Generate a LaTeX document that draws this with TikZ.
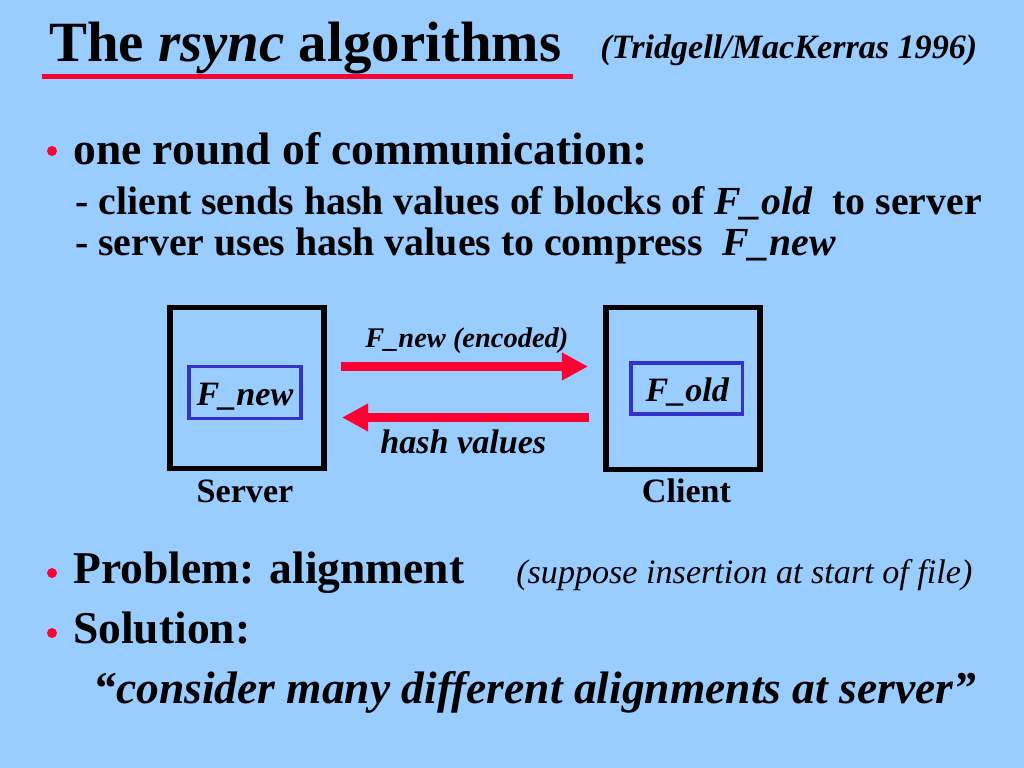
\documentclass[tikz,border=0pt]{standalone}
\usepackage{fontspec}
\setmainfont{Liberation Serif}[
  UprightFont={Liberation Serif},
  BoldFont={Liberation Serif Bold},
  ItalicFont={Liberation Serif Italic},
  BoldItalicFont={Liberation Serif Bold Italic}]
\usetikzlibrary{arrows.meta}
\definecolor{bg}{HTML}{99CCFF}
\definecolor{rd}{HTML}{FF0033}
\definecolor{bl}{HTML}{3333CC}
\begin{document}
\begin{tikzpicture}[x=0.703125pt,y=-0.703125pt,
  txt/.style={inner sep=0pt,anchor=base west},
  ttl/.style={txt,font=\fontsize{40}{48}\selectfont\bfseries},
  big/.style={txt,font=\fontsize{32}{38}\selectfont\bfseries},
  mid/.style={txt,font=\fontsize{28}{34}\selectfont\bfseries},
  sml/.style={txt,font=\fontsize{24}{29}\selectfont\bfseries\itshape},
  lbl/.style={inner sep=0pt,anchor=base,font=\fontsize{24}{29}\selectfont\bfseries},
  bullet/.style={circle,fill=rd,inner sep=0pt,minimum size=7pt},
  host/.style={draw=black,line width=4.2pt,inner sep=0pt},
  file/.style={draw=bl,line width=2.5pt,inner sep=0pt,font=\fontsize{24}{29}\selectfont\bfseries\itshape},
  flow/.style={rd,line width=6.3pt,-{Triangle[length=18.3pt,width=18.3pt]}}]
\fill[bg] (0,0) rectangle (1024,768);
\useasboundingbox (0,0) rectangle (1024,768);
% title
\node[ttl] (title) at (49,62) {The \textit{rsync} algorithms};
\node[sml] (cite) at (600,59) {(Tridgell/MacKerras 1996)};
\draw[rd,line width=3.5pt] (42,76.5) -- (573,76.5);
% first bullet
\node[bullet] (b1) at (52,151) {};
\node[big] (l1) at (73,165) {one round of communication:};
\node[mid] (l2) at (75,215) {- client sends hash values of blocks of \textit{F\_old}\ \ to server};
\node[mid] (l3) at (75,256) {- server uses hash values to compress\ \ \textit{F\_new}};
% diagram
\node[host,minimum width=107.6pt,minimum height=113.2pt] (server) at (247,388) {};
\node[host,minimum width=108.6pt,minimum height=113.9pt] (client) at (682.75,388.5) {};
\node[file,minimum width=78.75pt,text height=27.07pt,text depth=9.49pt] (fnew) at (245,392.5) {F\_new};
\node[file,minimum width=78.4pt,text height=26.72pt,text depth=9.14pt,text width=58pt,align=left] (fold) at (686.75,388.5) {F\_old};
\node[lbl] (slbl) at (245,502) {Server};
\node[lbl] (clbl) at (686.5,502) {Client};
\coordinate (a1s) at (341,366.5);
\coordinate (a1e) at (588,366.5);
\coordinate (a2s) at (589,417.5);
\coordinate (a2e) at (342,417.5);
\draw[flow] (a1s) -- (a1e);
\draw[flow] (a2s) -- (a2e);
\node[txt,font=\fontsize{20}{24}\selectfont\bfseries\itshape] (enc) at (365,348) {F\_new (encoded)};
\node[sml] (hash) at (380,453) {hash values};
% second and third bullets
\node[bullet] (b2) at (52,573) {};
\node[big] (l4) at (73,583) {Problem: alignment};
\node[txt,font=\fontsize{24}{29}\selectfont\itshape] (sup) at (516,583) {(suppose insertion at start of file)};
\node[bullet] (b3) at (52,633) {};
\node[big] (l5) at (73,643) {Solution:};
\node[big,font=\fontsize{32}{38}\selectfont\bfseries\itshape] (quote) at (93,703) {“consider many different alignments at server”};
\end{tikzpicture}
\end{document}
